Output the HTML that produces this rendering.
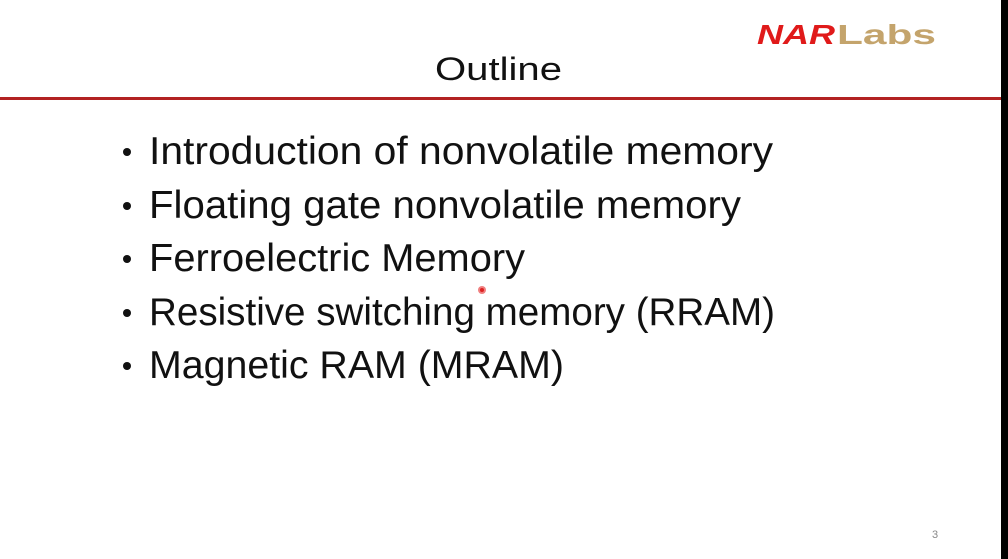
<!DOCTYPE html>
<html><head><style>
html,body{margin:0;padding:0;background:#fff;}
svg{display:block;}
</style></head><body>
<svg width="1008" height="559" xmlns="http://www.w3.org/2000/svg">
<rect width="1008" height="559" fill="#fff"/>
<rect x="1001" y="0" width="7" height="559" fill="#000"/>
<text x="757" y="44" font-family="Liberation Sans, sans-serif" font-weight="bold" font-style="italic" font-size="28" fill="#e01a1a" textLength="78" lengthAdjust="spacingAndGlyphs">NAR</text>
<text x="837" y="44" font-family="Liberation Sans, sans-serif" font-weight="bold" font-size="28" fill="#c4a46c" textLength="99" lengthAdjust="spacingAndGlyphs">Labs</text>
<text x="435" y="80" font-family="Liberation Sans, sans-serif" font-size="32" fill="#111" textLength="127" lengthAdjust="spacingAndGlyphs">Outline</text>
<rect x="0" y="97" width="1001" height="3" fill="#b22222"/>
<g font-family="Liberation Sans, sans-serif" font-size="39" fill="#111">
<circle cx="127" cy="152" r="4" fill="#111"/>
<text x="149" y="164" textLength="624" lengthAdjust="spacingAndGlyphs">Introduction of nonvolatile memory</text>
<circle cx="127" cy="206" r="4" fill="#111"/>
<text x="149" y="218" textLength="592" lengthAdjust="spacingAndGlyphs">Floating gate nonvolatile memory</text>
<circle cx="127" cy="259" r="4" fill="#111"/>
<text x="149" y="271" textLength="376" lengthAdjust="spacingAndGlyphs">Ferroelectric Memory</text>
<circle cx="127" cy="313" r="4" fill="#111"/>
<text x="149" y="325" textLength="626" lengthAdjust="spacingAndGlyphs">Resistive switching memory (RRAM)</text>
<circle cx="127" cy="366" r="4" fill="#111"/>
<text x="149" y="378" textLength="415" lengthAdjust="spacingAndGlyphs">Magnetic RAM (MRAM)</text>
</g>
<circle cx="482" cy="290" r="4" fill="#f08080"/>
<circle cx="482" cy="290" r="2" fill="#d22"/>
<text x="932" y="538" font-family="Liberation Sans, sans-serif" font-size="11" fill="#888">3</text>
</svg>
</body></html>
